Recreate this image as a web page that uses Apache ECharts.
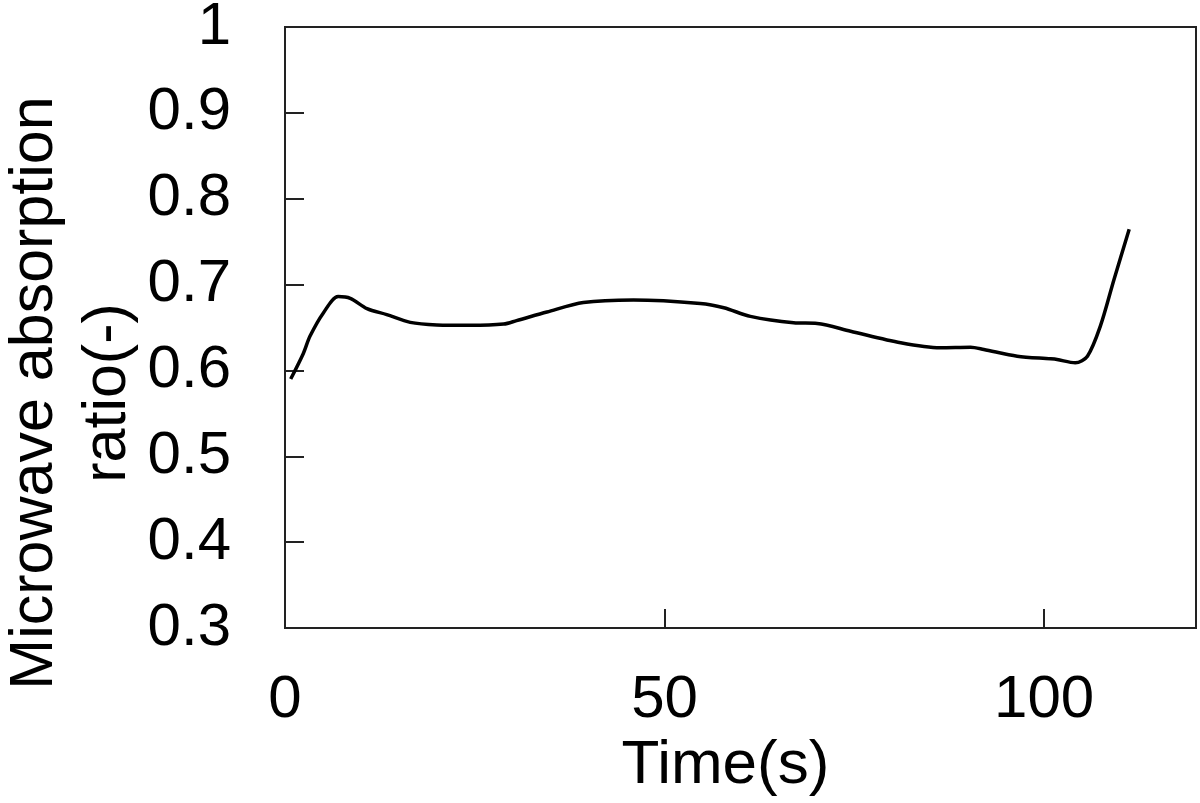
<!DOCTYPE html>
<html lang="en" style="height: 100%">
<head>
  <meta charset="utf-8">
</head>
<body style="height: 100%; margin: 0; background-color: #fff">
  <div id="container" style="width: 1200px; height: 803px"></div>

  <script type="text/javascript" src="https://cdn.jsdelivr.net/npm/echarts@6.0.0/dist/echarts.min.js"></script>
  <script type="text/javascript">
    // time (s) and absorption ratio
    var timeS = [0.75, 2.4, 3.3, 5.05, 7.0, 8.6, 10.8, 13.4, 16.5, 20.0, 24.4, 28.8, 30.5, 34.5,
      39.3, 45.9, 54.7, 57.8, 61.3, 67.0, 70.1, 74.5, 81.1, 86.3, 90.3, 92.05, 96.45, 100.85,
      101.7, 104.1, 105.7, 107.4, 109.2, 111.2];
    var ratio = [0.590, 0.6195, 0.640, 0.667, 0.686, 0.684, 0.672, 0.665, 0.656, 0.653, 0.6525, 0.654, 0.658, 0.668,
      0.679, 0.682, 0.678, 0.673, 0.663, 0.6555, 0.6547, 0.6457, 0.6322, 0.6264, 0.627, 0.6244, 0.6166, 0.6135,
      0.6127, 0.6089, 0.6166, 0.6516, 0.706, 0.7644];
    var xTicks = [0, 50, 100];
    var yTicks = [0.3, 0.4, 0.5, 0.6, 0.7, 0.8, 0.9, 1];

    var points = timeS.map(function (t, i) { return [t, ratio[i]]; });

    var myChart = echarts.init(document.getElementById('container'), null, { renderer: 'canvas' });
    var font = 'Liberation Sans, Arial, sans-serif';

    var option = {
      animation: false,
      grid: {
        left: 285, right: 4, top: 27, bottom: 175,
        containLabel: false, outerBoundsMode: 'none',
        show: true, borderColor: '#222', borderWidth: 2, backgroundColor: 'transparent'
      },
      xAxis: {
        type: 'value', min: 0, max: 120, interval: 50,
        name: 'Time(s)', nameLocation: 'middle', nameGap: 107,
        nameTextStyle: { fontFamily: font, fontSize: 62, color: '#000', padding: [0, 30, 0, 0] },
        axisLine: { lineStyle: { color: '#222', width: 2 } },
        axisTick: { inside: true, length: 19, lineStyle: { color: '#222', width: 2 } },
        axisLabel: {
          fontFamily: font, fontSize: 60, color: '#000', margin: 42,
          formatter: function (v) { return xTicks.indexOf(v) >= 0 ? String(v) : ''; }
        },
        splitLine: { show: false }
      },
      yAxis: {
        type: 'value', min: 0.3, max: 1, interval: 0.1,
        axisLine: { lineStyle: { color: '#222', width: 2 } },
        axisTick: { inside: true, length: 19, lineStyle: { color: '#222', width: 2 } },
        axisLabel: {
          fontFamily: font, fontSize: 60, color: '#000', margin: 54,
          formatter: function (v) {
            var r = Math.round(v * 10) / 10;
            return r === 1 ? '1' : r.toFixed(1);
          }
        },
        splitLine: { show: false }
      },
      graphic: [{
        type: 'text',
        x: 72, y: 393,
        rotation: Math.PI / 2,
        style: {
          text: 'Microwave absorption\nratio(-)',
          fontFamily: font, fontSize: 61, lineHeight: 73,
          fill: '#000', align: 'center', verticalAlign: 'middle'
        }
      }],
      series: [{
        type: 'line',
        data: points,
        smooth: 0.3,
        showSymbol: false,
        lineStyle: { color: '#000', width: 3.5 }
      }]
    };

    myChart.setOption(option);
    window.addEventListener('resize', myChart.resize);
  </script>
</body>
</html>
